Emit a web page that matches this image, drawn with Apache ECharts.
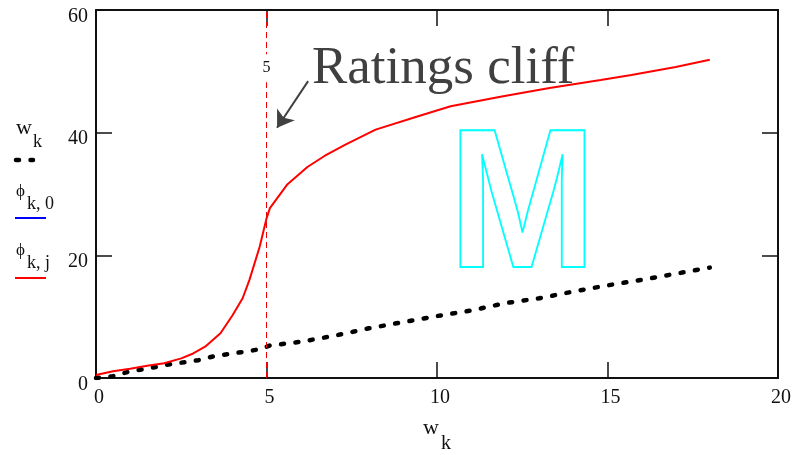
<!DOCTYPE html>
<html>
<head>
<meta charset="utf-8">
<script src="https://cdn.jsdelivr.net/npm/echarts@6/dist/echarts.min.js"></script>
<style>
  html, body { margin: 0; padding: 0; background: #fff; }
  #chart { width: 796px; height: 455px; }
</style>
</head>
<body>
<div id="chart"></div>
<script>
// w_k against itself (dotted black)
var wkX = [0, 0.5, 1, 1.5, 2, 2.5, 3, 3.5, 4, 4.5, 4.8, 5.1, 6, 7, 8, 9, 10, 11, 12, 13, 14, 15, 16, 17, 18];
var wkY = [0, 0.3, 1.1, 1.5, 2.1, 2.5, 2.9, 3.6, 4.0, 4.4, 4.7, 5.3, 5.9, 6.9, 8.1, 9.1, 10.1, 11.0, 12.2, 13.0, 14.1, 15.1, 16.0, 17.0, 18.0];

// phi_k,j (red)
var phiX = [0, 0.5, 1, 1.5, 2, 2.5, 2.85, 3.2, 3.65, 4.0, 4.3, 4.5, 4.8, 5.0, 5.1, 5.6, 6.2, 6.7, 7.3, 8.2, 9.4, 10.4, 11.9, 13.3, 14.8, 15.7, 17, 18];
var phiY = [0.5, 1.1, 1.5, 2.0, 2.4, 3.2, 4.0, 5.1, 7.3, 10.2, 13.0, 16.0, 21.4, 26.0, 27.7, 31.5, 34.4, 36.2, 38.0, 40.5, 42.6, 44.3, 45.9, 47.3, 48.6, 49.4, 50.7, 51.9];

var xTicks = [0, 5, 10, 15, 20];
var yTicks = [0, 20, 40, 60];
var cliffX = 5;

var serif = '"Liberation Serif", "DejaVu Serif", serif';

function pairs(xs, ys) {
  return xs.map(function (x, i) { return [x, ys[i]]; });
}

var myChart = echarts.init(document.getElementById('chart'));

var tick = { show: true, inside: true, length: 16, lineStyle: { color: '#111', width: 1.5 } };
var axLine = { show: true, onZero: false, lineStyle: { color: '#111', width: 2 } };

var options = {
  animation: false,
  grid: { left: 96, right: 18, top: 10, bottom: 77 },
  xAxis: [
    {
      type: 'value', min: xTicks[0], max: xTicks[xTicks.length - 1], interval: 5,
      axisLine: axLine, axisTick: tick, splitLine: { show: false },
      axisLabel: { color: '#111', fontFamily: serif, fontSize: 20, margin: 10, padding: [0, 0, 0, 6] }
    },
    {
      type: 'value', position: 'top', min: 0, max: 20, interval: 5,
      axisLine: axLine, axisTick: tick, splitLine: { show: false }, axisLabel: { show: false }
    }
  ],
  yAxis: [
    {
      type: 'value', min: yTicks[0], max: yTicks[yTicks.length - 1], interval: 20,
      axisLine: axLine, axisTick: tick, splitLine: { show: false },
      axisLabel: { color: '#111', fontFamily: serif, fontSize: 20, margin: 8, verticalAlign: 'top', lineHeight: 13 }
    },
    {
      type: 'value', position: 'right', min: 0, max: 60, interval: 20,
      axisLine: axLine, axisTick: tick, splitLine: { show: false }, axisLabel: { show: false }
    }
  ],
  series: [
    {
      name: 'w_k',
      type: 'line',
      data: pairs(wkX, wkY),
      showSymbol: false,
      lineStyle: { color: '#000', width: 4.5, type: [3, 11.5], cap: 'round' },
      markLine: {
        silent: true,
        symbol: ['none', 'none'],
        label: { show: false },
        lineStyle: { color: '#e00', width: 1, type: [6, 4] },
        data: [{ xAxis: cliffX }]
      },
      markPoint: {
        silent: true,
        symbol: 'rect',
        symbolSize: 0,
        label: {
          show: true, position: 'inside', formatter: '5',
          color: '#111', fontFamily: serif, fontSize: 16,
          backgroundColor: '#fff', padding: [6, 1]
        },
        data: [{ coord: [cliffX, 50.5] }]
      }
    },
    {
      name: 'phi_k,j',
      type: 'line',
      data: pairs(phiX, phiY),
      showSymbol: false,
      lineStyle: { color: '#ff0000', width: 2 },
      markLine: {
        silent: true,
        symbol: ['none', 'arrow'],
        symbolSize: 16,
        label: { show: false },
        lineStyle: { color: '#404040', width: 2, type: 'solid' },
        data: [[{ coord: [6.22, 48.4] }, { coord: [5.31, 40.8] }]]
      }
    }
  ],
  graphic: [
    // annotation
    { type: 'text', x: 312, y: 69, style: { text: 'Ratings cliff', font: '53px ' + serif, fill: '#404040', align: 'left', verticalAlign: 'middle' } },
    // outlined M
    { type: 'text', x: 448.5, y: 212, scaleX: 0.896, style: { text: 'M', font: 'bold 198px "Liberation Sans", Arial, sans-serif', fill: 'none', stroke: '#00ffff', lineWidth: 2, align: 'left', verticalAlign: 'middle' } },
    // legend: w_k
    { type: 'text', x: 16, y: 128, style: { text: 'w', font: '22px ' + serif, fill: '#111', verticalAlign: 'middle' } },
    { type: 'text', x: 33, y: 142, style: { text: 'k', font: '18px ' + serif, fill: '#111', verticalAlign: 'middle' } },
    { type: 'line', shape: { x1: 16, y1: 160, x2: 33, y2: 160 }, style: { stroke: '#000', lineWidth: 4.5, lineDash: [3, 11.5], lineCap: 'round' } },
    // legend: phi_k,0
    { type: 'text', x: 16, y: 192, style: { text: 'ϕ', font: '17px ' + serif, fill: '#111', verticalAlign: 'middle' } },
    { type: 'text', x: 27, y: 204, style: { text: 'k, 0', font: '18px ' + serif, fill: '#111', verticalAlign: 'middle' } },
    { type: 'line', shape: { x1: 15, y1: 218, x2: 46, y2: 218 }, style: { stroke: '#0000ff', lineWidth: 2 } },
    // legend: phi_k,j
    { type: 'text', x: 16, y: 251, style: { text: 'ϕ', font: '17px ' + serif, fill: '#111', verticalAlign: 'middle' } },
    { type: 'text', x: 27, y: 263, style: { text: 'k, j', font: '18px ' + serif, fill: '#111', verticalAlign: 'middle' } },
    { type: 'line', shape: { x1: 15, y1: 278, x2: 46, y2: 278 }, style: { stroke: '#ff0000', lineWidth: 2 } },
    // x axis title w_k
    { type: 'text', x: 423, y: 428, style: { text: 'w', font: '22px ' + serif, fill: '#111', verticalAlign: 'middle' } },
    { type: 'text', x: 441, y: 444, style: { text: 'k', font: '20px ' + serif, fill: '#111', verticalAlign: 'middle' } }
  ]
};

myChart.setOption(options);
window.addEventListener('resize', function () {
  myChart.resize();
});
</script>
</body>
</html>
